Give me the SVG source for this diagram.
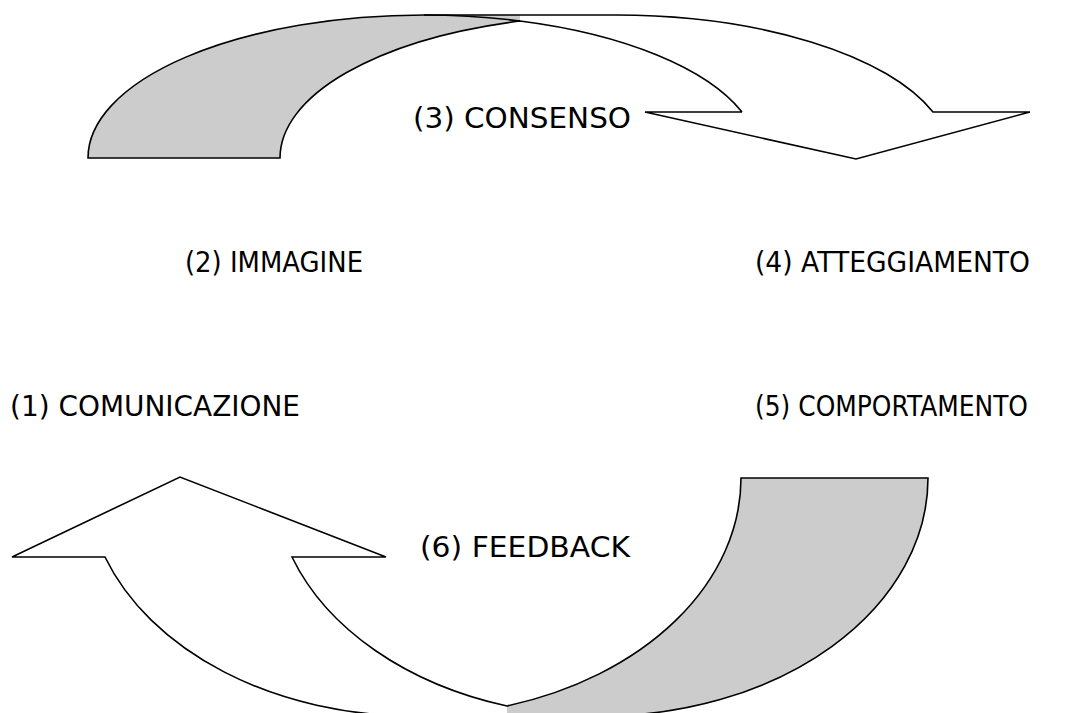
<svg xmlns="http://www.w3.org/2000/svg" width="1080" height="713" viewBox="0 0 1080 713">
<style>
.lbl{font-family:"DejaVu Sans","Verdana",sans-serif;font-size:28px;fill:#000}
.ln{fill:none;stroke:#000;stroke-width:1.6;stroke-linejoin:miter}
.wf{fill:#fff;stroke:none}
.gf{fill:#cccccc;stroke:none}
</style>
<rect width="1080" height="713" fill="#fff"/>
<g id="connectors">
<g id="arrow-top">
<path class="wf" d="M742,112 L645,112 L856,159 L1030,112 L933,112 A336,143 0 0 0 616,15 L520,15 L520,21 A336,143 0 0 1 742,112 Z"/>
<path class="gf" d="M88,158 A336,143 0 0 1 424,15 L520,15 L520,21 A336,143 0 0 0 280,158 Z"/>
<path class="ln" d="M742,112 L645,112 L856,159 L1030,112 L933,112 A336,143 0 0 0 616,15 L424,15 A336,143 0 0 0 88,158 L280,158 A336,143 0 0 1 520,21 A336,143 0 0 1 742,112"/>
<path class="ln" d="M424,15 A336,143 0 0 1 520,21"/>
</g>
<g id="arrow-bottom">
<path class="wf" d="M105,557 L12,557 L180,477 L386,557 L292,557 A327.5,238 0 0 0 507,706 L507,720 L413.5,720 L413.5,716 A327.5,238 0 0 1 105,557 Z"/>
<path class="gf" d="M741,478 L928,478 A327.5,238 0 0 1 600.5,716 L600.5,720 L507,720 L507,706 A327.5,238 0 0 0 741,478 Z"/>
<path class="ln" d="M741,478 L928,478 A327.5,238 0 0 1 600.5,716 L413.5,716 A327.5,238 0 0 1 105,557 L12,557 L180,477 L386,557 L292,557 A327.5,238 0 0 0 507,706 A327.5,238 0 0 0 741,478 Z"/>
</g>
</g>
<g id="n3"><text class="lbl" x="413" y="128" textLength="218" lengthAdjust="spacingAndGlyphs">(3) CONSENSO</text></g>
<g id="n2"><text class="lbl" x="185" y="272" textLength="178" lengthAdjust="spacingAndGlyphs">(2) IMMAGINE</text></g>
<g id="n4"><text class="lbl" x="755" y="272" textLength="275" lengthAdjust="spacingAndGlyphs">(4) ATTEGGIAMENTO</text></g>
<g id="n1"><text class="lbl" x="10" y="416" textLength="290" lengthAdjust="spacingAndGlyphs">(1) COMUNICAZIONE</text></g>
<g id="n5"><text class="lbl" x="755" y="416" textLength="273" lengthAdjust="spacingAndGlyphs">(5) COMPORTAMENTO</text></g>
<g id="n6"><text class="lbl" x="420" y="557" textLength="210" lengthAdjust="spacingAndGlyphs">(6) FEEDBACK</text></g>
</svg>
